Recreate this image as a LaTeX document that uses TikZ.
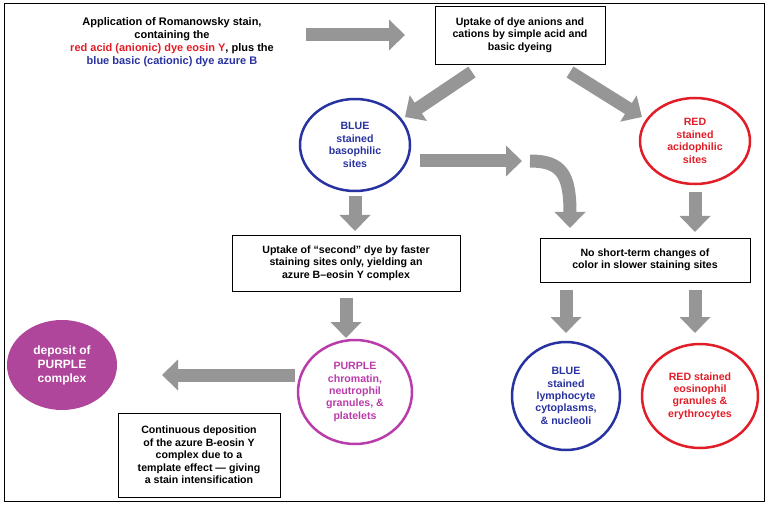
\documentclass[tikz,border=0pt]{standalone}
\usepackage{fontspec}
\setmainfont{Liberation Sans}
\usetikzlibrary{arrows.meta,shapes.geometric,positioning}
\definecolor{dblue}{RGB}{40,50,160}
\definecolor{dred}{RGB}{225,30,40}
\definecolor{dpurp}{RGB}{185,60,170}
\definecolor{fpurp}{RGB}{175,70,155}
\definecolor{agray}{RGB}{150,150,150}
\tikzset{
 txt/.style={font=\bfseries\fontsize{10.6}{12.4}\selectfont, align=center},
 box/.style={txt, draw, line width=0.8pt, inner sep=4pt},
 circ/.style={txt, ellipse, draw, line width=2.5pt, inner sep=0pt},
 fat/.style={draw=agray, line width=13pt, -{Triangle[length=16pt,width=30pt]}, agray},
}
\begin{document}
\begin{tikzpicture}[x=1pt,y=-1pt]
 \useasboundingbox (0,0) rectangle (768,505);
 \draw[line width=0.8pt] (4,3) rectangle (764,501);

 %top
 \node[txt, font=\bfseries\fontsize{11}{13}\selectfont] (intro) at (172,42) {Application of Romanowsky stain,\\ containing the\\
  \textcolor{dred}{red acid (anionic) dye eosin Y}, plus the\\ \textcolor{dblue}{blue basic (cationic) dye azure B}};
 \node[box, minimum width=170, minimum height=58] (uptake) at (520,35) {Uptake of dye anions and\\ cations by simple acid and\\ basic dyeing};

 %level 2
 \node[circ, dblue, minimum width=110, minimum height=92] (blue1) at (355,145) {BLUE\\ stained\\ basophilic\\ sites};
 \node[circ, dred, minimum width=110, minimum height=86] (red1) at (695,141) {RED\\ stained\\ acidophilic\\ sites};

 %boxes
 \node[box, minimum width=228, minimum height=56] (second) at (346,263) {Uptake of ``second'' dye by faster\\ staining sites only, yielding an\\ azure B--eosin Y complex};
 \node[box, minimum width=210, minimum height=44] (nochange) at (645,260) {No short-term changes of\\ color in slower staining sites};

 %bottom
 \node[circ, dpurp, minimum width=114, minimum height=104] (purple) at (355,392) {PURPLE\\ chromatin,\\ neutrophil\\ granules, \&\\ platelets};
 \node[circ, dblue, minimum width=108, minimum height=108] (blue2) at (566,396) {BLUE\\ stained\\ lymphocyte\\ cytoplasms,\\ \& nucleoli};
 \node[circ, dred, minimum width=116, minimum height=104] (red2) at (700,396) {RED stained\\ eosinophil\\ granules \&\\ erythrocytes};
 \node[txt, ellipse, fill=fpurp, text=white, minimum width=110, minimum height=90, font=\bfseries\fontsize{12}{14}\selectfont] (deposit) at (62,365) {deposit of\\ PURPLE\\ complex};
 \node[box, minimum width=162, minimum height=84] (contin) at (199,455) {Continuous deposition\\ of the azure B-eosin Y\\ complex due to a\\ template effect --- giving\\ a stain intensification};

 %arrows
 \coordinate (a1) at (306,35); \coordinate (a2) at (405,35);
 \draw[fat] (a1) -- (a2);
 \coordinate (b1) at (472,72); \coordinate (b2) at (405,117);
 \draw[fat] (b1) -- (b2);
 \coordinate (c1) at (570,72); \coordinate (c2) at (642,117);
 \draw[fat] (c1) -- (c2);
 \coordinate (d1) at (420,161); \coordinate (d2) at (522,161);
 \draw[fat] (d1) -- (d2);
 \coordinate (e1) at (530,161); \coordinate (e2) at (570,228);
 \draw[fat] (e1) .. controls (562,161) and (570,175) .. (e2);
 \draw[fat] (blue1.south |- 0,196) -- (blue1.south |- 0,231);
 \draw[fat] (red1.south |- 0,192) -- (red1.south |- 0,232);
 \draw[fat] (second.south |- 0,298) -- (second.south |- 0,338);
 \draw[fat] (blue2.north |- 0,290) -- (blue2.north |- 0,333);
 \draw[fat] (695,290) -- (695,333);
 \coordinate (f1) at (295,375); \coordinate (f2) at (162,375);
 \draw[fat] (f1) -- (f2);
\end{tikzpicture}
\end{document}
